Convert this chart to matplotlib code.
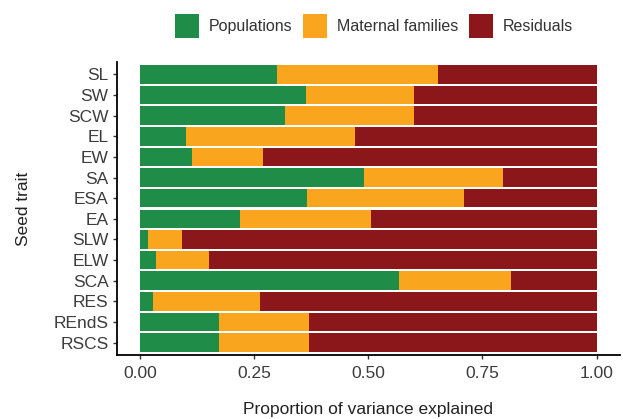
import numpy as np
import matplotlib
matplotlib.use("Agg")
import matplotlib.pyplot as plt
from matplotlib.patches import Patch

matplotlib.rcParams['font.family'] = ['Liberation Sans', 'DejaVu Sans']

traits = ["SL", "SW", "SCW", "EL", "EW", "SA", "ESA", "EA",
          "SLW", "ELW", "SCA", "RES", "REndS", "RSCS"]
populations = [0.300, 0.364, 0.318, 0.101, 0.114, 0.491, 0.366, 0.219,
               0.018, 0.035, 0.567, 0.029, 0.173, 0.173]
maternal = [0.353, 0.236, 0.282, 0.370, 0.155, 0.304, 0.343, 0.287,
            0.074, 0.116, 0.245, 0.234, 0.197, 0.197]
residuals = [1 - p - m for p, m in zip(populations, maternal)]

series = ["Populations", "Maternal families", "Residuals"]
colors = ["#1F8C48", "#F9A51D", "#8B171B"]

fig = plt.figure(figsize=(6.23, 4.19), dpi=100)
ax = fig.add_axes([0.1878, 0.1527, 0.8066, 0.6993])

y = np.arange(len(traits))
left = np.zeros(len(traits))
for vals, c in zip([populations, maternal, residuals], colors):
    ax.barh(y, vals, left=left, height=0.9, color=c, edgecolor='none')
    left += np.array(vals)

ax.set_xlim(-0.05, 1.05)
ax.set_ylim(len(traits) - 0.4, -0.6)
ax.set_yticks(y)
ax.set_yticklabels(traits)
ax.set_xticks([0, 0.25, 0.5, 0.75, 1.0])
ax.set_xticklabels(["0.00", "0.25", "0.50", "0.75", "1.00"])
ax.tick_params(axis='both', labelsize=12.5, colors='#333333', labelcolor='#3C3C3C',
               length=3, width=1)
ax.tick_params(axis='x', pad=5)
ax.tick_params(axis='y', pad=3)
for s in ['top', 'right']:
    ax.spines[s].set_visible(False)
for s in ['left', 'bottom']:
    ax.spines[s].set_linewidth(1.3)
ax.set_xlabel("Proportion of variance explained", fontsize=12.5, labelpad=15,
              color='#222222')
ax.set_ylabel("Seed trait", fontsize=12.5, labelpad=16, color='#222222')

handles = [Patch(facecolor=c, edgecolor='none') for c in colors]
fig.legend(handles, series, loc='upper center', bbox_to_anchor=(0.6, 0.995),
           ncol=3, frameon=False, fontsize=11.5, handlelength=1.5, handleheight=1.5,
           handletextpad=0.6, columnspacing=0.7, labelcolor='#333333')
for h in fig.legends[0].legend_handles:
    h.set_height(h.get_height() * 1.2)
    h.set_y(h.get_y() - h.get_height() * 0.08)

fig.savefig("out.png", dpi=100)
